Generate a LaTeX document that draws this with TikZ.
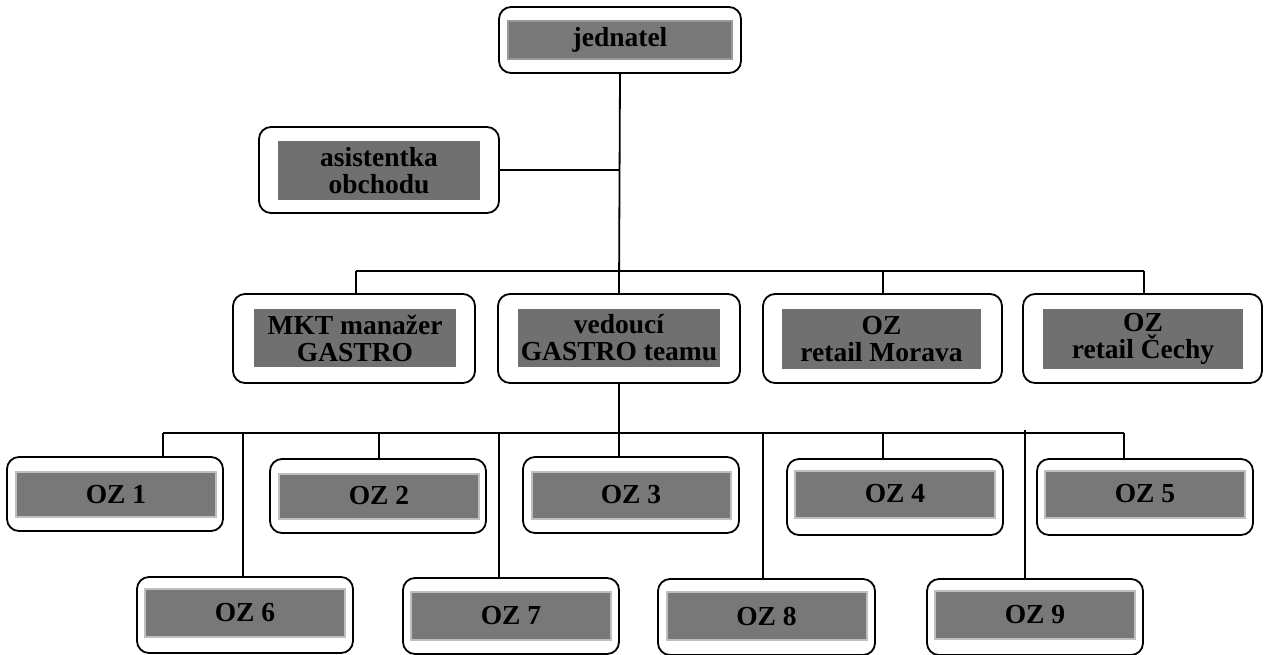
\documentclass[tikz,border=0pt]{standalone}
\usepackage{fontspec}
\setmainfont{Liberation Serif}
\begin{document}
\begin{tikzpicture}[x=1pt,y=-1pt,
  outerbox/.style={draw=black,line width=1.8pt,rounded corners=12pt,fill=white,inner sep=0pt},
  innerbox/.style={fill=black!53,draw=black!25,line width=2pt,inner sep=0pt,align=center,
     font=\fontsize{27.5}{27}\selectfont\bfseries},
  innerdark/.style={fill=black!56,draw=none,inner sep=0pt,align=center,
     font=\fontsize{27.5}{27}\selectfont\bfseries},
  conn/.style={draw=black,line width=1.8pt}]
\useasboundingbox (0,0) rectangle (1268,654);
% outer boxes
\node[outerbox,minimum width=242pt,minimum height=66pt] (jed) at (620,40) {};
\node[innerbox,draw=black!40,minimum width=224pt,minimum height=38pt] (jedi) at (620,40) {jednatel};
\node[outerbox,minimum width=240pt,minimum height=86pt] (asi) at (379,170) {};
\node[innerdark,minimum width=202pt,minimum height=59pt] (asii) at (379,170.5) {asistentka\\obchodu};
\node[outerbox,minimum width=242pt,minimum height=89pt] (mkt) at (354,338.5) {};
\node[innerdark,minimum width=202pt,minimum height=58pt] (mkti) at (355,338) {MKT manažer\\GASTRO};
\node[outerbox,minimum width=242pt,minimum height=89pt] (ved) at (619,338.5) {};
\node[innerdark,minimum width=202pt,minimum height=58pt] (vedi) at (619,338) {vedoucí\\GASTRO teamu};
\node[outerbox,minimum width=239pt,minimum height=89pt] (mor) at (882.5,338.5) {};
\node[innerdark,minimum width=199pt,minimum height=60pt] (mori) at (881.5,339) {OZ\\retail Morava};
\node[outerbox,minimum width=239pt,minimum height=89pt] (cec) at (1142.5,338.5) {};
\node[innerdark,minimum width=200pt,minimum height=60pt] (ceci) at (1143,339) {OZ\\retail Čechy};
% OZ row 1
\node[outerbox,minimum width=216pt,minimum height=74pt] (oz1) at (115,494) {};
\node[innerbox,minimum width=200pt,minimum height=45pt] at (116,494.5) {OZ 1};
\node[outerbox,minimum width=216pt,minimum height=74pt] (oz2) at (378,496) {};
\node[innerbox,minimum width=200pt,minimum height=45pt] at (379,496) {OZ 2};
\node[outerbox,minimum width=216pt,minimum height=76pt] (oz3) at (631,495) {};
\node[innerbox,minimum width=199pt,minimum height=47pt] at (631,495) {OZ 3};
\node[outerbox,minimum width=216pt,minimum height=76pt] (oz4) at (895,497) {};
\node[innerbox,minimum width=200pt,minimum height=47pt] at (895,494) {OZ 4};
\node[outerbox,minimum width=216pt,minimum height=76pt] (oz5) at (1145,497) {};
\node[innerbox,minimum width=200pt,minimum height=47pt] at (1145,494) {OZ 5};
% OZ row 2
\node[outerbox,minimum width=216pt,minimum height=76pt] (oz6) at (245,615) {};
\node[innerbox,minimum width=200pt,minimum height=48pt] at (245,613) {OZ 6};
\node[outerbox,minimum width=216pt,minimum height=76pt] (oz7) at (511,616) {};
\node[innerbox,minimum width=200pt,minimum height=48pt] at (511,616) {OZ 7};
\node[outerbox,minimum width=217pt,minimum height=76pt] (oz8) at (766.5,617) {};
\node[innerbox,minimum width=200pt,minimum height=48pt] at (766.5,616) {OZ 8};
\node[outerbox,minimum width=216pt,minimum height=76pt] (oz9) at (1035,617) {};
\node[innerbox,minimum width=200pt,minimum height=48pt] at (1035,615) {OZ 9};
% bus coordinates
\coordinate (b2l) at (356,271);
\coordinate (b2r) at (1144,271);
\coordinate (b2m) at (883,271);
\coordinate (b3l) at (163,433);
\coordinate (b3r) at (1124,433);
\coordinate (b36) at (243,433);
\coordinate (b32) at (379,433);
\coordinate (b37) at (499,433);
\coordinate (b38) at (763,433);
\coordinate (b34) at (883,433);
\coordinate (b39) at (1025,430);
% connectors
\draw[conn] (jed.south) -- (ved.north);
\draw[conn] (asi.east) -- (asi.east -| jed.south);
\draw[conn] (b2l) -- (b2r);
\draw[conn] (b2l) -- (b2l |- mkt.north);
\draw[conn] (b2m) -- (b2m |- mor.north);
\draw[conn] (b2r) -- (b2r |- cec.north);
\draw[conn] (ved.south) -- (ved.south |- oz3.north);
\draw[conn] (b3l) -- (b3r);
\draw[conn] (b3l) -- (b3l |- oz1.north);
\draw[conn] (b32) -- (b32 |- oz2.north);
\draw[conn] (b34) -- (b34 |- oz4.north);
\draw[conn] (b3r) -- (b3r |- oz5.north);
\draw[conn] (b36) -- (b36 |- oz6.north);
\draw[conn] (b37) -- (b37 |- oz7.north);
\draw[conn] (b38) -- (b38 |- oz8.north);
\draw[conn] (b39) -- (b39 |- oz9.north);
\end{tikzpicture}
\end{document}
